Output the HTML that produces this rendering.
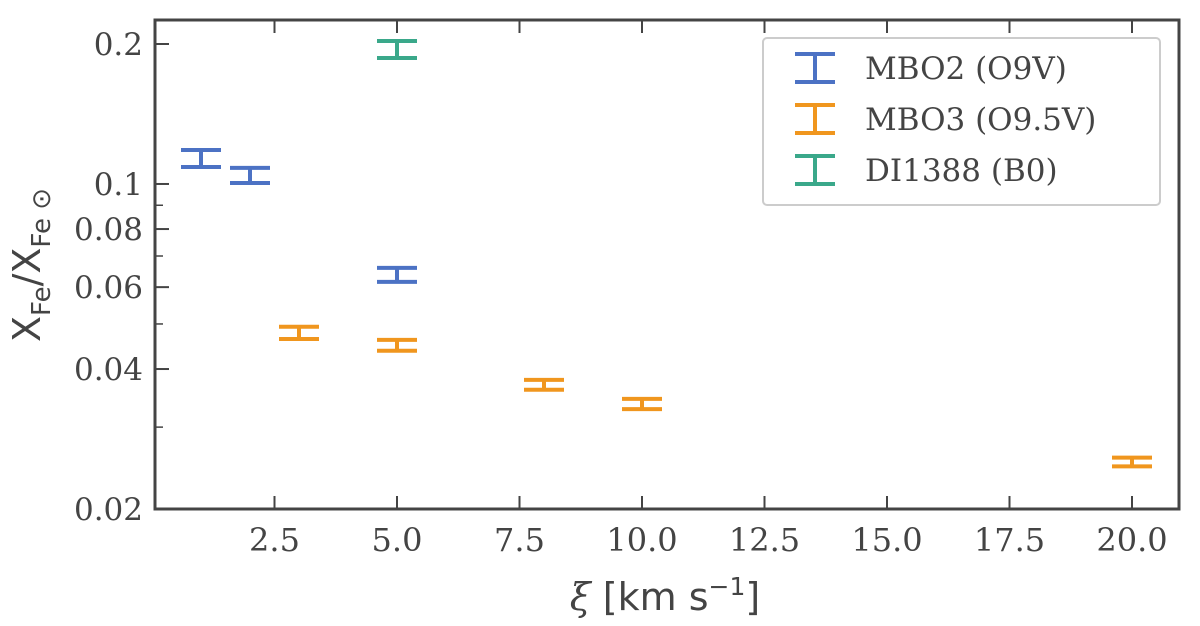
<!DOCTYPE html>
<html><head><meta charset="utf-8"><style>
body{margin:0;background:#fff}
svg text{fill:#444}
</style></head><body>
<svg id="chart" width="1200" height="621" xmlns="http://www.w3.org/2000/svg">
<g id="grid"></g>
<g id="marks"></g>
<rect x="155" y="20" width="1024" height="489" fill="none" stroke="#444" stroke-width="3"/>
<g>
<rect x="763" y="38" width="397" height="167" rx="4" fill="#fff" stroke="#ccc" stroke-width="2"/>
<g id="legend-items"></g>
</g>
<text x="665" y="610" text-anchor="middle" font-family="DejaVu Sans, sans-serif" font-size="38"><tspan font-family="DejaVu Serif, serif" font-style="italic">ξ</tspan> [km s<tspan dy="-15" font-size="25">−1</tspan><tspan dy="15">]</tspan></text>
<text transform="translate(40,265) rotate(-90)" text-anchor="middle" font-family="DejaVu Sans, sans-serif" font-size="38">X<tspan dy="10" font-size="26">Fe</tspan><tspan dy="-10">/X</tspan><tspan dy="10" font-size="26">Fe ⊙</tspan></text>
</svg>
<script>
const series = ["MBO2 (O9V)","MBO3 (O9.5V)","DI1388 (B0)"];
const colors = ["#4c72c4","#f0961e","#3aa88a"];
const blueX = [1,2,5];
const blueLo = [0.1088,0.1005,0.0616];
const blueHi = [0.1183,0.1083,0.066];
const orangeX = [3,5,8,10,20];
const orangeLo = [0.0464,0.0438,0.0361,0.0328,0.0247];
const orangeHi = [0.0493,0.0462,0.0379,0.0345,0.0258];
const greenX = [5];
const greenLo = [0.1866];
const greenHi = [0.203];
const xTicks = [2.5,5.0,7.5,10.0,12.5,15.0,17.5,20.0];
const yMajor = [0.02,0.04,0.06,0.08,0.1,0.2];
const yMinor = [0.03,0.05,0.07,0.09];

const NS="http://www.w3.org/2000/svg";
const X0=155,X1=1179,Y0=20,Y1=509;
const xs=v=>397+(v-5)*49;
const ys=v=>509-(Math.log10(v)-Math.log10(0.02))*465;
function mk(tag,attrs,parent){const e=document.createElementNS(NS,tag);for(const k in attrs)e.setAttribute(k,attrs[k]);parent.appendChild(e);return e;}
const grid=document.getElementById('grid');
xTicks.forEach(t=>{
  const x=xs(t);
  let l=mk('line',{x1:x,x2:x,y1:Y1,y2:Y1-13,stroke:'#444','stroke-width':2},grid);
  
  
  l=mk('line',{x1:x,x2:x,y1:Y0,y2:Y0+13,stroke:'#444','stroke-width':2},grid);
  
  
  const tx=mk('text',{x:x,y:551,'text-anchor':'middle','font-family':'DejaVu Serif, serif','font-size':32},grid);
  tx.textContent=t.toFixed(1);
  
  
});
yMajor.forEach(t=>{
  const y=ys(t);
  const l=mk('line',{x1:X0,x2:X0+14,y1:y,y2:y,stroke:'#444','stroke-width':2},grid);
  
  
  const tx=mk('text',{x:143,y:y+11,'text-anchor':'end','font-family':'DejaVu Serif, serif','font-size':31},grid);
  tx.textContent=String(t);
  
  
});
yMinor.forEach(t=>{
  const y=ys(t);
  const l=mk('line',{x1:X0,x2:X0+8,y1:y,y2:y,stroke:'#444','stroke-width':1.5},grid);
  
  
});
const marks=document.getElementById('marks');
function errbar(x,lo,hi,c){
  const g=mk('g',{stroke:c,'stroke-width':4},marks);
  
  
  const px=xs(x),a=ys(lo),b=ys(hi);
  mk('line',{x1:px,x2:px,y1:a,y2:b},g);
  mk('line',{x1:px-20,x2:px+20,y1:a,y2:a},g);
  mk('line',{x1:px-20,x2:px+20,y1:b,y2:b},g);
}
blueX.forEach((x,i)=>errbar(x,blueLo[i],blueHi[i],colors[0]));
orangeX.forEach((x,i)=>errbar(x,orangeLo[i],orangeHi[i],colors[1]));
greenX.forEach((x,i)=>errbar(x,greenLo[i],greenHi[i],colors[2]));
const leg=document.getElementById('legend-items');
series.forEach((s,i)=>{
  const y=68+i*51;
  const g=mk('g',{stroke:colors[i],'stroke-width':4},leg);
  
  
  mk('line',{x1:815,x2:815,y1:y-14,y2:y+14},g);
  mk('line',{x1:795,x2:835,y1:y-14,y2:y-14},g);
  mk('line',{x1:795,x2:835,y1:y+14,y2:y+14},g);
  const tx=mk('text',{x:865,y:y+11,'font-family':'DejaVu Serif, serif','font-size':31},leg);
  tx.textContent=s;
  
  
});
</script>
</body></html>
